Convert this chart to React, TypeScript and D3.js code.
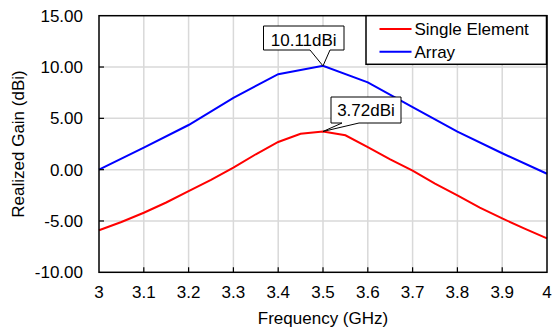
import React from 'react';
import * as d3 from 'd3';

// chart data
const freqSingle = [3.0, 3.05, 3.1, 3.15, 3.2, 3.25, 3.3, 3.35, 3.4, 3.45, 3.5, 3.55, 3.6, 3.65, 3.7, 3.75, 3.8, 3.85, 3.9, 3.95, 4.0];
const gainSingle = [-5.9, -5.1, -4.2, -3.2, -2.1, -1.0, 0.2, 1.5, 2.7, 3.5, 3.72, 3.35, 2.2, 1.0, -0.1, -1.35, -2.5, -3.7, -4.75, -5.75, -6.7];
const freqArray = [3.0, 3.1, 3.2, 3.3, 3.4, 3.5, 3.6, 3.7, 3.8, 3.9, 4.0];
const gainArray = [0.0, 2.15, 4.35, 7.0, 9.3, 10.11, 8.5, 6.1, 3.7, 1.6, -0.4];
const xTicks = [3, 3.1, 3.2, 3.3, 3.4, 3.5, 3.6, 3.7, 3.8, 3.9, 4];
const yTicks = [-10, -5, 0, 5, 10, 15];
const seriesNames = ['Single Element', 'Array'];
const seriesColors = ['#ff0000', '#0000ff'];

const W = 553;
const H = 334;
const margin = { left: 99, right: 6, top: 15.7, bottom: 61.7 };
const font = '"Liberation Sans", Arial, sans-serif';

export default function App() {
  const x = d3.scaleLinear().domain([3, 4]).range([margin.left, W - margin.right]);
  const y = d3.scaleLinear().domain([-10, 15]).range([H - margin.bottom, margin.top]);
  const line = d3.line<[number, number]>()
    .x(d => x(d[0]))
    .y(d => y(d[1]))
    .curve(d3.curveLinear);

  const single: [number, number][] = freqSingle.map((f, i) => [f, gainSingle[i]]);
  const arr: [number, number][] = freqArray.map((f, i) => [f, gainArray[i]]);

  const x0 = x(3), x1 = x(4), y0 = y(-10), y1 = y(15);

  // callout: box plus pointer down to the peak
  const callout = (bx: number, by: number, bw: number, bh: number, p1: number, p2: number, tx: number, ty: number) =>
    `M${bx},${by}H${bx + bw}V${by + bh}H${p2}L${tx},${ty}L${p1},${by + bh}H${bx}Z`;

  const peakA = [3.5, 10.11];
  const peakS = [3.5, 3.72];

  return (
    <svg width={W} height={H} style={{ position: 'absolute', left: 0, top: 0, background: '#fff' }} fontFamily={font}>
      {/* grid */}
      <g stroke="#d9d9d9" strokeWidth={1.5}>
        {xTicks.slice(1, -1).map(t => (
          <line key={'gx' + t} x1={x(t)} x2={x(t)} y1={y1} y2={y0} />
        ))}
        {yTicks.slice(1, -1).map(t => (
          <line key={'gy' + t} x1={x0} x2={x1} y1={y(t)} y2={y(t)} />
        ))}
      </g>

      {/* series */}
      <path d={line(arr) || ''} fill="none" stroke={seriesColors[1]} strokeWidth={2} />
      <path d={line(single) || ''} fill="none" stroke={seriesColors[0]} strokeWidth={2} />

      {/* frame and ticks */}
      <rect x={x0} y={y1} width={x1 - x0} height={y0 - y1} fill="none" stroke="#000" strokeWidth={1.5} />
      <g stroke="#000" strokeWidth={1.2}>
        {xTicks.slice(1, -1).map(t => (
          <line key={'tx' + t} x1={x(t)} x2={x(t)} y1={y0} y2={y0 - 5} />
        ))}
        {yTicks.slice(1, -1).map(t => (
          <line key={'ty' + t} x1={x0} x2={x0 + 5} y1={y(t)} y2={y(t)} />
        ))}
      </g>

      {/* tick labels */}
      <g fontSize={17} fill="#000">
        {xTicks.map(t => (
          <text key={'lx' + t} x={x(t)} y={298} textAnchor="middle">{d3.format('')(t)}</text>
        ))}
        {yTicks.map(t => (
          <text key={'ly' + t} x={83} y={y(t) + 6} textAnchor="end">{t.toFixed(2)}</text>
        ))}
      </g>

      {/* axis titles */}
      <text x={(x0 + x1) / 2} y={324} textAnchor="middle" fontSize={17}>Frequency (GHz)</text>
      <text transform={`translate(24,${(y0 + y1) / 2}) rotate(-90)`} textAnchor="middle" fontSize={17}>Realized Gain (dBi)</text>

      {/* callouts */}
      <path d={callout(263.5, 26, 80.5, 24, 310, 330, x(peakA[0]), y(peakA[1]))} fill="#fff" stroke="#000" strokeWidth={1} />
      <text x={303.7} y={45.5} textAnchor="middle" fontSize={17}>{peakA[1].toFixed(2)}dBi</text>
      <path d={callout(331, 97, 70, 26, 342, 359, x(peakS[0]), y(peakS[1]))} fill="#fff" stroke="#000" strokeWidth={1} />
      <text x={366} y={115.5} textAnchor="middle" fontSize={17}>{peakS[1].toFixed(2)}dBi</text>

      {/* legend */}
      <rect x={366} y={y1} width={180.5} height={48.6} fill="#fff" stroke="#000" strokeWidth={1.5} />
      {seriesNames.map((name, i) => (
        <g key={name}>
          <line x1={379.5} x2={411.5} y1={29 + i * 22.7} y2={29 + i * 22.7} stroke={seriesColors[i]} strokeWidth={2} />
          <text x={414.5} y={35 + i * 23} fontSize={17}>{name}</text>
        </g>
      ))}
    </svg>
  );
}
